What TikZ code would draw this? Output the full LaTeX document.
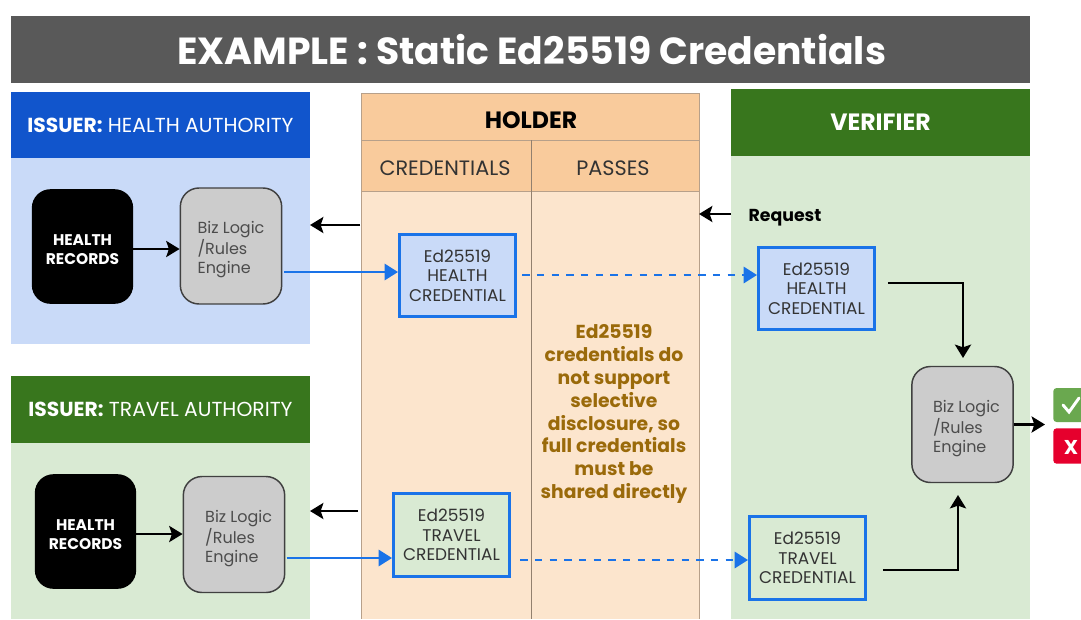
\documentclass[tikz,border=0pt]{standalone}
\usepackage{fontspec}
\setmainfont{Poppins}
\usetikzlibrary{arrows.meta,positioning}
\definecolor{titlegray}{HTML}{595959}
\definecolor{healthhead}{HTML}{1155CC}
\definecolor{healthbody}{HTML}{C9DAF8}
\definecolor{travelhead}{HTML}{38761D}
\definecolor{travelbody}{HTML}{D9EAD3}
\definecolor{holderhead}{HTML}{F9CB9C}
\definecolor{holderbody}{HTML}{FCE5CD}
\definecolor{holderline}{HTML}{B7A08A}
\definecolor{credblue}{HTML}{1A73E8}
\definecolor{bizgray}{HTML}{CCCCCC}
\definecolor{notebrown}{HTML}{9A6A0A}
\definecolor{okgreen}{HTML}{6AA84F}
\definecolor{nored}{HTML}{E6002D}
\newcommand{\bizlines}[1]{\mbox{}\\[0.6pt]\hspace*{#1}Biz Logic\\\hspace*{#1}/Rules\\\hspace*{#1}Engine}
\tikzset{
  records/.style={fill=black,text=white,rounded corners=14pt,minimum width=76pt,minimum height=86pt,inner sep=0pt,align=center,font=\bfseries\fontsize{11.6}{14.4}\selectfont},
  bizbox/.style={draw=black!75,line width=1.1pt,fill=bizgray,rounded corners=14pt,minimum width=76pt,minimum height=87pt,inner sep=0pt,align=left,text=black!70,font=\fontsize{12}{14.3}\selectfont},
  credbox/.style={draw=credblue,line width=2.2pt,minimum width=87pt,minimum height=62pt,inner sep=0pt,align=center,text=black!80,font=\fontsize{12.7}{14.5}\selectfont},
  flow/.style={-{Stealth[length=10pt,width=12pt,inset=2pt]},line width=2.2pt,black},
  issue/.style={-{Triangle[length=10pt,width=12pt]},line width=2pt,credblue},
  share/.style={-{Triangle[length=10pt,width=12pt]},line width=2.2pt,credblue,dash pattern=on 5.5pt off 5.5pt}
}
\begin{document}
\begin{tikzpicture}[x=0.75pt,y=-0.75pt]
\useasboundingbox (0,0) rectangle (1081,619);
\fill[white] (0,0) rectangle (1081,619);

% panels
\fill[healthbody] (11,158) rectangle (310,344);
\fill[travelbody] (11,443) rectangle (310,619);
\fill[travelbody] (731,156) rectangle (1030,619);
\fill[holderbody] (361,191) rectangle (699,619);
\draw[holderline,fill=holderhead] (361,93) rectangle (699,191);
\draw[holderline] (361,140) -- (699,140);
\draw[holderline] (361,191) -- (699,191);
\draw[holderline] (361,140) -- (361,619);
\draw[holderline] (699,93) -- (699,619);
\draw[holderline!80!black] (531,140) -- (531,619);

% headers
\node (title) [fill=titlegray,text=white,minimum width=764.25pt,minimum height=50.25pt,inner sep=0pt,font=\bfseries\fontsize{28.3}{30}\selectfont] at (520.5,49.5) {\hspace*{17pt}EXAMPLE : Static Ed25519 Credentials};
\node (issuerh) [fill=healthhead,text=white,minimum width=224.25pt,minimum height=49.5pt,inner sep=0pt,font=\fontsize{15.2}{18}\selectfont] at (160.5,125) {\textbf{ISSUER:} HEALTH AUTHORITY};
\node (issuert) [fill=travelhead,text=white,minimum width=224.25pt,minimum height=50.25pt,inner sep=0pt,font=\fontsize{15.2}{18}\selectfont] at (160.5,409.5) {\textbf{ISSUER:} TRAVEL AUTHORITY};
\node (verifier) [fill=travelhead,text=white,minimum width=224.25pt,minimum height=50.25pt,inner sep=0pt,font=\bfseries\fontsize{17.7}{20}\selectfont] at (880.5,122.5) {VERIFIER};
\node (holder) [font=\bfseries\fontsize{17.7}{20}\selectfont] at (531,120) {HOLDER};
\node (creds) [text=black!80,font=\fontsize{15.6}{18}\selectfont] at (445,168) {CREDENTIALS};
\node (passes) [text=black!80,font=\fontsize{15.6}{18}\selectfont] at (613,168) {PASSES};

% health issuer
\node (hrec) [records] at (82.5,246.5) {\mbox{}\\[-2.1pt]HEALTH\\RECORDS};
\node (hbiz) [bizbox] at (231,246) {\bizlines{0pt}};
\node (hcred) [credbox,fill=healthbody] at (457.5,275.5) {Ed25519\\HEALTH\\CREDENTIAL};
\coordinate (hreqa) at (360,225);
\coordinate (hreqb) at (310,225);

% travel issuer
\node (trec) [records] at (85.5,531.5) {\mbox{}\\[-2.1pt]HEALTH\\RECORDS};
\node (tbiz) [bizbox] at (234,534.5) {\bizlines{7pt}};
\node (tcred) [credbox,fill=travelbody] at (451.5,535) {Ed25519\\TRAVEL\\CREDENTIAL};
\coordinate (treqa) at (358,511);
\coordinate (treqb) at (310,511);

% verifier
\node (req) [font=\bfseries\fontsize{13}{15}\selectfont] at (785,217.5) {Request};
\coordinate (reqa) at (731,214);
\coordinate (reqb) at (699,214);
\node (vhealth) [credbox,fill=healthbody] at (816.5,288.5) {Ed25519\\HEALTH\\CREDENTIAL};
\node (vtravel) [credbox,fill=travelbody] at (807.5,558) {Ed25519\\TRAVEL\\CREDENTIAL};
\node (vbiz) [bizbox] at (962.5,424.5) {\bizlines{6pt}};
\node (ok) [fill=okgreen,rounded corners=2.5pt,minimum width=24pt,minimum height=25.5pt,inner sep=0pt,anchor=west] at (1053,405) {};
\node (no) [fill=nored,rounded corners=2.5pt,minimum width=24pt,minimum height=26.5pt,inner sep=0pt,anchor=west] at (1053,446) {};
\draw[white,line width=2.2pt,line cap=round] (1063,405) -- (1069,412) -- (1079,398);
\node (nomark) [text=white,font=\bfseries\fontsize{15}{15}\selectfont] at (1071,447) {X};

% note
\node (note) [text=notebrown,align=center,font=\bfseries\fontsize{14.1}{17.2}\selectfont] at (614,414) {Ed25519\\credentials do\\not support\\selective\\disclosure, so\\full credentials\\must be\\shared directly};

% connectors
\coordinate (harr) at (963,358);
\coordinate (tarr) at (958,495);
\coordinate (vout) at (1045,424.5);
\draw[flow](hrec.east|-0,249)--(hbiz.west|-0,249);
\draw[flow](trec.east|-0,534)--(tbiz.west|-0,534);
\draw[flow](hreqa)--(hreqb);
\draw[flow](treqa)--(treqb);
\draw[flow](reqa)--(reqb);
\draw[issue]([xshift=1.5pt]hbiz.east|-0,272)--(hcred.west|-0,272);
\draw[issue]([xshift=1pt]tbiz.east|-0,558)--(tcred.west|-0,558);
\draw[share]([xshift=4pt]hcred.east|-0,275)--(vhealth.west|-0,275);
\draw[share]([xshift=7pt]tcred.east|-0,560)--(vtravel.west|-0,560);
\draw[flow]([xshift=9pt]vhealth.east|-0,283)-|(harr);
\draw[flow]([xshift=12pt]vtravel.east|-0,570)-|(tarr);
\draw[flow](vbiz.east)--(vout);
\end{tikzpicture}
\end{document}
